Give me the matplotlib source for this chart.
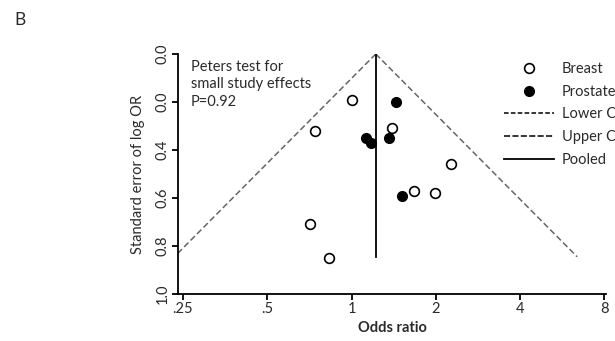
import numpy as np
import matplotlib
matplotlib.use("Agg")
import matplotlib.pyplot as plt
from matplotlib.lines import Line2D

# Data
breast_or = [1.00, 0.74, 0.71, 0.83, 1.40, 2.26, 1.67, 1.98]
breast_se = [0.19, 0.32, 0.71, 0.85, 0.31, 0.46, 0.57, 0.58]
prostate_or = [1.44, 1.13, 1.17, 1.36, 1.51]
prostate_se = [0.20, 0.35, 0.37, 0.35, 0.59]
pooled_or = 1.22
max_se = 0.845
xticks = [0.25, 0.5, 1, 2, 4, 8]
xtick_labels = [".25", ".5", "1", "2", "4", "8"]
yticks = [0.0, 0.2, 0.4, 0.6, 0.8, 1.0]
ytick_labels = ["0.0", "0.0", "0.4", "0.6", "0.8", "1.0"]

plt.rcParams['font.family'] = ['Lato', 'DejaVu Sans']
txt = '#2a2a2a'
fs = 10.5

fig = plt.figure(figsize=(6.15, 3.41), dpi=100)
ax = fig.add_axes([178/615, 1-294/341, 428/615, 240/341])

# funnel
lo = np.exp(np.log(pooled_or) - 1.96*max_se)
hi = np.exp(np.log(pooled_or) + 1.96*max_se)
ax.plot([pooled_or, lo], [0, max_se], color='#666666', lw=1.1, dashes=(4, 2))
ax.plot([pooled_or, hi], [0, max_se], color='#666666', lw=1.1, dashes=(4, 2))
ax.plot([pooled_or, pooled_or], [0, max_se], color='black', lw=1.3)

ax.plot(breast_or, breast_se, 'o', ms=7, mfc='white', mec='black', mew=1.2, ls='none')
ax.plot(prostate_or, prostate_se, 'o', ms=7, mfc='black', mec='black', ls='none')

ax.set_xscale('log', base=2)
ax.set_xlim(0.24, 8.1)
ax.set_ylim(1.0, 0.0)
ax.set_xticks(xticks)
ax.set_xticklabels(xtick_labels)
ax.minorticks_off()
ax.set_yticks(yticks)
ax.set_yticklabels(ytick_labels, rotation=90, va='center')
ax.tick_params(axis='both', direction='out', length=4, width=1.3, labelsize=fs, labelcolor=txt, pad=2)
for s in ['top', 'right']:
    ax.spines[s].set_visible(False)
for s in ['left', 'bottom']:
    ax.spines[s].set_linewidth(1.3)

ax.set_xlabel('Odds ratio', fontsize=fs, fontweight='bold', color=txt, labelpad=3)
ax.set_ylabel('Standard error of log OR', fontsize=fs, color=txt, labelpad=8)

ax.text(0.03, 0.975, 'Peters test for\nsmall study effects\nP=0.92', transform=ax.transAxes,
        fontsize=fs, color=txt, va='top', ha='left', linespacing=1.3)

handles = [
    Line2D([], [], marker='o', ls='none', ms=7, mfc='white', mec='black', mew=1.2),
    Line2D([], [], marker='o', ls='none', ms=7, mfc='black', mec='black'),
    Line2D([], [], color='black', lw=1.1, dashes=(3, 1.5)),
    Line2D([], [], color='black', lw=1.1, dashes=(4, 1.5)),
    Line2D([], [], color='black', lw=1.3),
]
labels = ['Breast', 'Prostate', 'Lower CI', 'Upper CI', 'Pooled']
leg = fig.legend(handles, labels, loc='upper left', bbox_to_anchor=(504/615, 1-62/341),
                 frameon=False, fontsize=fs, handlelength=3.4, handletextpad=0.55,
                 labelspacing=0.6, borderpad=0, borderaxespad=0)
for t in leg.get_texts():
    t.set_color(txt)

fig.text(14/615, 1-20/341, 'B', fontsize=12.5, color=txt, va='center', ha='left')

fig.savefig('out.png', dpi=100)
